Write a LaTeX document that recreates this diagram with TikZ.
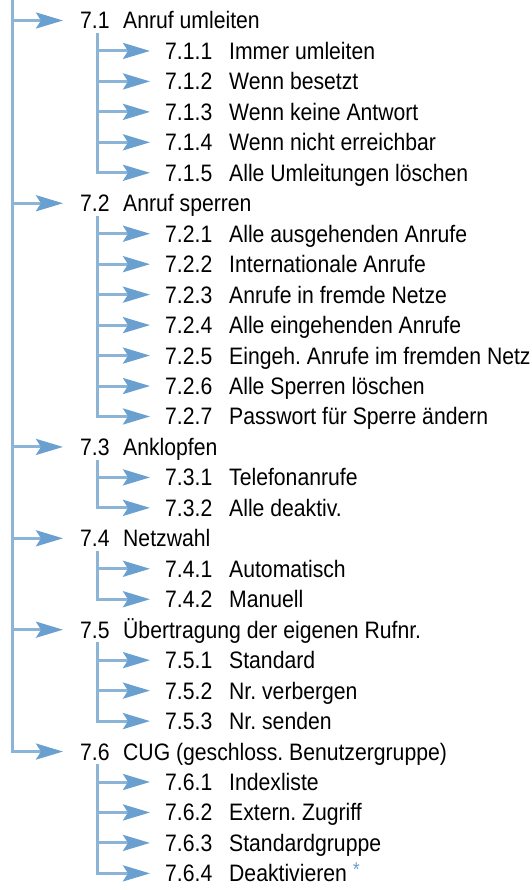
\documentclass[tikz,border=0pt]{standalone}
\usepackage{fontspec}
\setmainfont{Liberation Sans}[FakeStretch=0.89]
\usetikzlibrary{arrows.meta}
\definecolor{lineblue}{RGB}{140,180,214}
\definecolor{headblue}{RGB}{105,160,207}
\frenchspacing
\begin{document}
\begin{tikzpicture}[x=1pt,y=-1pt,
  ln/.style={draw=lineblue, line width=3pt},
  arr/.style={ln, -{Stealth[length=27pt,width=16pt,inset=5pt,fill=headblue,color=headblue]}},
  lbl/.style={anchor=west, inner sep=0pt, text height=17pt, text depth=0pt, font=\fontsize{23.8}{28}\selectfont}]
\useasboundingbox (0,0) rectangle (531,890);
\coordinate (top) at (12,0);
\coordinate (sub) at (97,0);
\foreach \i/\lev/\num/\txt in {
  0/1/7.1/{Anruf umleiten},
  1/2/7.1.1/{Immer umleiten},
  2/2/7.1.2/{Wenn besetzt},
  3/2/7.1.3/{Wenn keine Antwort},
  4/2/7.1.4/{Wenn nicht erreichbar},
  5/2/7.1.5/{Alle Umleitungen löschen},
  6/1/7.2/{Anruf sperren},
  7/2/7.2.1/{Alle ausgehenden Anrufe},
  8/2/7.2.2/{Internationale Anrufe},
  9/2/7.2.3/{Anrufe in fremde Netze},
  10/2/7.2.4/{Alle eingehenden Anrufe},
  11/2/7.2.5/{Eingeh. Anrufe im fremden Netz},
  12/2/7.2.6/{Alle Sperren löschen},
  13/2/7.2.7/{Passwort für Sperre ändern},
  14/1/7.3/{Anklopfen},
  15/2/7.3.1/{Telefonanrufe},
  16/2/7.3.2/{Alle deaktiv.},
  17/1/7.4/{Netzwahl},
  18/2/7.4.1/{Automatisch},
  19/2/7.4.2/{Manuell},
  20/1/7.5/{Übertragung der eigenen Rufnr.},
  21/2/7.5.1/{Standard},
  22/2/7.5.2/{Nr. verbergen},
  23/2/7.5.3/{Nr. senden},
  24/1/7.6/{CUG (geschloss. Benutzergruppe)},
  25/2/7.6.1/{Indexliste},
  26/2/7.6.2/{Extern. Zugriff},
  27/2/7.6.3/{Standardgruppe},
  28/2/7.6.4/{Deaktivieren\hspace{6pt}\textcolor{headblue}{\raisebox{5pt}{\fontsize{20}{20}\selectfont *}}}} {
  \pgfmathsetmacro\yy{20.5+30.46*\i}
  \pgfmathsetmacro\xn{\lev==1 ? 80 : 165}
  \pgfmathsetmacro\xt{\lev==1 ? 123 : 229}
  \node[lbl] (n\i) at (\xn,\yy) {\num};
  \node[lbl] (t\i) at (\xt,\yy) {\txt};
}
% main trunk
\draw[arr] (top) |- ([xshift=-17pt]n24.west);
\foreach \i in {0,6,14,17,20}
  \draw[arr] (top |- n\i.west) -- ([xshift=-17pt]n\i.west);
% sub trunks
\foreach \p/\f/\last in {0/1/5,6/7/13,14/15/16,17/18/19,20/21/23,24/25/28} {
  \path (n\p.south) ++(0,4) coordinate (st\p);
  \draw[arr] (st\p -| sub) |- ([xshift=-15pt]n\last.west);
  \pgfmathtruncatemacro\lm{\last-1}
  \foreach \j in {\f,...,\lm}
    \draw[arr] (sub |- n\j.west) -- ([xshift=-15pt]n\j.west);
}
\end{tikzpicture}
\end{document}
